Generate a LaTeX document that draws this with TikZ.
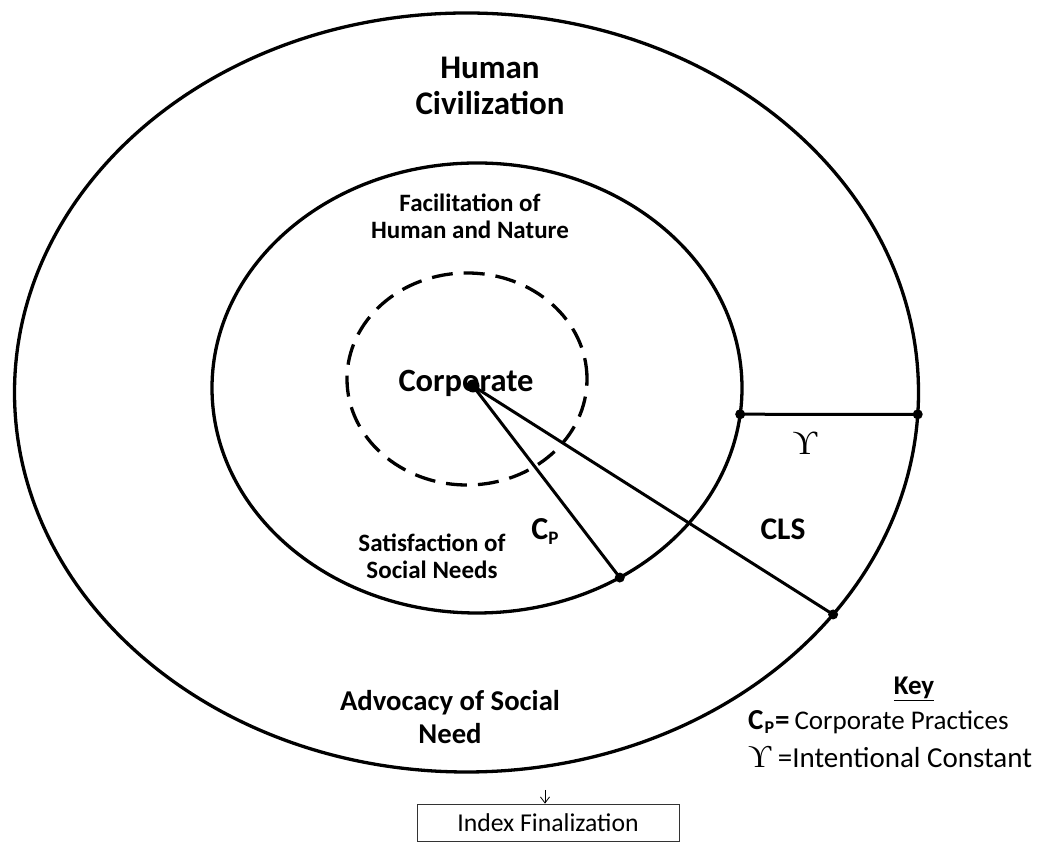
\documentclass[tikz,border=0pt]{standalone}
\usepackage{fontspec}
\setmainfont{Carlito}
\newfontfamily\symfont{Liberation Serif}
\usetikzlibrary{arrows.meta,calc}

\newcommand{\fs}[1]{\fontsize{#1}{1.2\dimexpr#1pt\relax}\selectfont}

\begin{document}
\begin{tikzpicture}[x=1pt, y=1pt,
  ring/.style={line width=3.3pt},
  spoke/.style={line width=3pt},
  dot/.style={circle, fill=black, inner sep=0pt, minimum size=10pt},
  lbl/.style={align=center, font=\bfseries}]

\useasboundingbox (0,0) rectangle (1041,842);

%% 椭圆
\coordinate (outer) at (466.5, 449.5);
\coordinate (middle) at (477, 454);
\coordinate (inner) at (467, 463);
\draw[ring] (outer) ellipse [x radius=452, y radius=379.5];
\draw[ring] (middle) ellipse [x radius=265, y radius=225];
\draw[ring, dash pattern=on 21pt off 11pt] (inner) ellipse [x radius=120, y radius=106];

%% 点
\coordinate (core) at (473, 456);
\coordinate (cp) at ($(middle)+(-57.4:265 and 225)$);
\coordinate (cls) at ($(outer)+(-35.8:452 and 379.5)$);
\coordinate (midR) at ($(middle)+(-6.7:265 and 225)$);
\coordinate (outR) at ($(outer)+(-3.3:452 and 379.5)$);

\draw[spoke] (core) -- (cp);
\draw[spoke] (core) -- (cls);
\draw[spoke] (midR) -- (outR);

\node[dot, minimum size=13pt] (coredot) at (core) {};
\node[dot] (cpdot) at (cp) {};
\node[dot] (clsdot) at (cls) {};
\node[dot] (midRdot) at (midR) {};
\node[dot] (outRdot) at (outR) {};

%% 文字
\node[lbl, font=\bfseries\fs{33}] (civ) at (490, 756) {Human\\[-4pt]Civilization};
\node[lbl, font=\bfseries\fs{25}] (fac) at (470, 626) {Facilitation of\\[-3pt]Human and Nature};
\node[lbl, font=\bfseries\fs{32.5}] (corp) at (466, 459) {Corporate};
\node[lbl, font=\bfseries\fs{25}] (sat) at (432, 286) {Satisfaction of\\[-3pt]Social Needs};
\node[lbl, font=\bfseries\fs{32}] (cplbl) at (545, 310) {C\raisebox{-5pt}{\fs{19}P}};
\node[lbl, font=\bfseries\fs{31.5}] (clslbl) at (783, 313) {CLS};
\node[lbl, font=\bfseries\fs{28.7}] (adv) at (450, 125) {Advocacy of Social\\[-2pt]Need};
\node[font=\symfont\fs{34}] (tau) at (805, 399) {ϒ};

%% Key
\node[font=\bfseries\fs{27}] (key) at (914, 153) {\underline{Key}};
\node[anchor=west, font=\fs{27}, inner sep=0pt] (keycp) at (748, 120)
  {\textbf{\fs{29}C\kern1pt\raisebox{-4pt}{\fs{18}P}\kern1pt=}\hspace{5pt}Corporate Practices};
\node[anchor=west, font=\fs{29}, inner sep=0pt] (keytau) at (748, 85)
  {{\symfont\fs{32}ϒ} =Intentional Constant};

%% 底部
\node[draw=black!80, line width=0.8pt, minimum width=262pt, minimum height=37pt,
  inner sep=0pt, font=\fs{25.7}] (index) at (548, 19.5) {Index Finalization};
\coordinate (arrtop) at (545, 52);
\draw[line width=0.8pt, -{Straight Barb[length=6pt, width=9pt]}] (arrtop) -- (index.north -| arrtop);
\end{tikzpicture}
\end{document}
